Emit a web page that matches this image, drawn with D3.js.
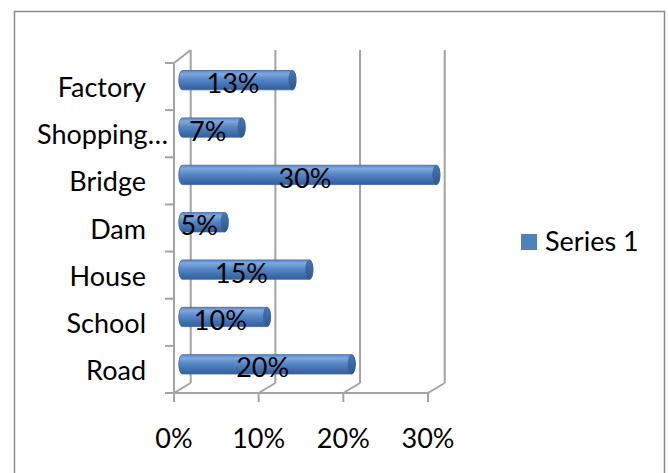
<!DOCTYPE html>
<html>
<head>
<meta charset="utf-8">
<script src="https://cdn.jsdelivr.net/npm/d3@7"></script>
<style>
  html, body { margin: 0; padding: 0; background: #fff; }
  svg { display: block; }
  text { font-family: Lato, "Open Sans", sans-serif; fill: #000; }
</style>
</head>
<body>
<svg id="chart" width="668" height="473"></svg>
<script>
// Project types, listed top to bottom
const categories = ["Factory", "Shopping…", "Bridge", "Dam", "House", "School", "Road"];
// Share of each project type, in percent
const values = [13, 7, 30, 5, 15, 10, 20];
// Value axis ticks
const ticks = [0, 10, 20, 30];
const seriesName = "Series 1";

const svg = d3.select("#chart");
const W = 668, H = 473;
const fontSize = 27;

// Chart area frame
svg.append("rect")
  .attr("x", 14.5).attr("y", 11.5)
  .attr("width", 650).attr("height", H + 20)
  .attr("fill", "#fff").attr("stroke", "#8a8a8a").attr("stroke-width", 1.5);

// Front plane (nearest the viewer) and back wall of the 3-D plot box
const front = { left: 174, right: 428, top: 63, bottom: 393 };
const back  = { left: 190.7, right: 444.7, top: 50, bottom: 383 };

const xFront = d3.scaleLinear().domain([0, 30]).range([front.left, front.right]);
const xBack  = d3.scaleLinear().domain([0, 30]).range([back.left, back.right]);
const yFront = d3.scaleBand().domain(categories).range([front.top, front.bottom]);
// map a front-plane y onto the back wall
const toBackY = d3.scaleLinear().domain([front.top, front.bottom]).range([back.top, back.bottom]);

const gridColor = "#a3a3a3";
const grid = svg.append("g").attr("stroke", gridColor).attr("stroke-width", 2).attr("fill", "none");

// back-wall gridlines plus their floor edges
ticks.forEach(t => {
  grid.append("line")
    .attr("x1", xBack(t)).attr("y1", back.top)
    .attr("x2", xBack(t)).attr("y2", back.bottom);
  grid.append("line")
    .attr("x1", xFront(t)).attr("y1", front.bottom)
    .attr("x2", xBack(t)).attr("y2", back.bottom);
});

// left wall: front edge and top edge
grid.append("line")
  .attr("x1", front.left).attr("y1", front.top)
  .attr("x2", front.left).attr("y2", front.bottom);
grid.append("line")
  .attr("x1", front.left).attr("y1", front.top)
  .attr("x2", back.left).attr("y2", back.top);

// floor front edge
grid.append("line")
  .attr("x1", front.left).attr("y1", front.bottom)
  .attr("x2", front.right).attr("y2", front.bottom);

// category tick marks on the left wall
const catEdges = categories.map(c => yFront(c)).concat([front.bottom]);
catEdges.forEach(y => {
  grid.append("line")
    .attr("x1", front.left - 9).attr("y1", y)
    .attr("x2", front.left).attr("y2", y);
});

// value tick marks under the floor
ticks.forEach(t => {
  grid.append("line")
    .attr("x1", xFront(t)).attr("y1", front.bottom)
    .attr("x2", xFront(t)).attr("y2", front.bottom + 9);
});

// Value axis labels
svg.append("g").selectAll("text").data(ticks).join("text")
  .attr("x", t => xFront(t))
  .attr("y", 448)
  .attr("text-anchor", "middle")
  .attr("font-size", fontSize)
  .text(t => t + "%");

// Category labels, right-aligned; a label too long for the space starts at its left edge
const labelRight = 146, labelLeft = 37;
const catLabels = svg.append("g").selectAll("text").data(categories).join("text")
  .attr("y", c => yFront(c) + yFront.bandwidth() / 2 + 10.5)
  .attr("font-size", fontSize)
  .text(c => c);
catLabels.each(function () {
  const w = this.getComputedTextLength();
  const el = d3.select(this);
  if (w > labelRight - labelLeft) el.attr("x", labelLeft).attr("text-anchor", "start");
  else el.attr("x", labelRight).attr("text-anchor", "end");
});

// Cylinder shading
const defs = svg.append("defs");
const grad = defs.append("linearGradient").attr("id", "cyl")
  .attr("x1", 0).attr("y1", 0).attr("x2", 0).attr("y2", 1);
[["0%", "#5a8bcc"], ["18%", "#7fa8dd"], ["45%", "#5788c8"], ["80%", "#3f6dab"], ["100%", "#34609a"]]
  .forEach(([o, c]) => grad.append("stop").attr("offset", o).attr("stop-color", c));
const capGrad = defs.append("linearGradient").attr("id", "cap")
  .attr("x1", 0).attr("y1", 0).attr("x2", 0).attr("y2", 1);
[["0%", "#4a76b2"], ["100%", "#2f5689"]]
  .forEach(([o, c]) => capGrad.append("stop").attr("offset", o).attr("stop-color", c));

const barH = 19.3, rx = 3.6;
const depthShift = (back.left - front.left) / 2;
const data = categories.map((c, i) => ({ cat: c, v: values[i] }));

function barCenterY(c) {
  const yf = yFront(c) + yFront.bandwidth() / 2;
  return (yf + toBackY(yf)) / 2;
}

const bars = svg.append("g").selectAll("g").data(data).join("g");
bars.append("path")
  .attr("d", d => {
    const x0 = xFront(0) + depthShift, x1 = xFront(d.v) + depthShift;
    const cy = barCenterY(d.cat), t = cy - barH / 2, b = cy + barH / 2, ry = barH / 2;
    return `M${x0},${t} L${x1},${t} A${rx},${ry} 0 0 1 ${x1},${b} L${x0},${b} A${rx},${ry} 0 0 1 ${x0},${t} Z`;
  })
  .attr("fill", "url(#cyl)")
  .attr("stroke", "#3b659f").attr("stroke-width", 0.8);
bars.append("ellipse")
  .attr("cx", d => xFront(d.v) + depthShift)
  .attr("cy", d => barCenterY(d.cat))
  .attr("rx", rx).attr("ry", barH / 2)
  .attr("fill", "url(#cap)")
  .attr("stroke", "#34609a").attr("stroke-width", 0.6);

// Value labels on the bars
bars.append("text")
  .attr("x", d => xFront(d.v / 2) + 4)
  .attr("y", d => barCenterY(d.cat) + 13)
  .attr("text-anchor", "middle")
  .attr("font-size", fontSize)
  .text(d => d.v + "%");

// Legend
const legend = svg.append("g");
legend.append("rect")
  .attr("x", 521).attr("y", 234).attr("width", 16).attr("height", 16)
  .attr("fill", "#4f81bd");
legend.append("text")
  .attr("x", 545).attr("y", 251)
  .attr("font-size", fontSize)
  .text(seriesName);
</script>
</body>
</html>
